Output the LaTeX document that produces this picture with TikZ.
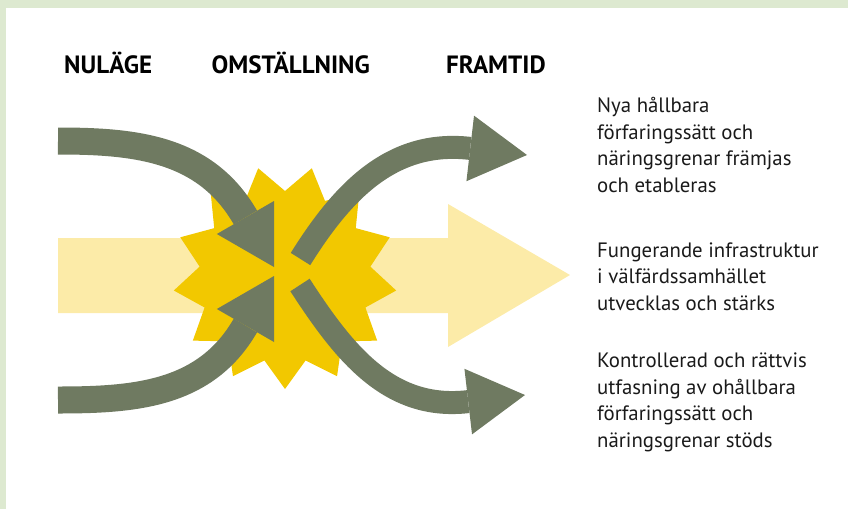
\documentclass[tikz,border=0pt]{standalone}
\usepackage{fontspec}
\setmainfont{PT Sans}
\definecolor{ram}{HTML}{DDE9D0}
\definecolor{ljusgul}{HTML}{FCEBA8}
\definecolor{gul}{HTML}{F2C800}
\definecolor{gron}{HTML}{6F7A61}
\definecolor{text}{HTML}{1A1A1A}
\begin{document}
\begin{tikzpicture}[x=1pt, y=1pt,
    rubrik/.style={font=\fontsize{25}{28}\selectfont\bfseries, anchor=base west, inner sep=0},
    mal/.style={font=\fontsize{20.8}{26.6}\selectfont, text=text, align=left, anchor=base west, inner sep=0},
    in band/.style={gron, line width=27},
    ut band/.style={gron, line width=23}]
  \useasboundingbox (0,0) rectangle (848,-509);
  \fill[ram] (0,0) rectangle (848,-7.5);
  \fill[ram] (0,0) rectangle (6,-509);

  \node[rubrik] (nulage) at (64,-73.4) {NULÄGE};
  \node[rubrik] (omstallning) at (211.4,-73.4) {OMSTÄLLNING};
  \node[rubrik] (framtid) at (446,-73.4) {FRAMTID};

  % bred pil och stjarna
  \fill[ljusgul] (58,-238) -- (448,-238) -- (448,-204) -- (570,-275)
    -- (448,-347) -- (448,-313) -- (58,-313) -- cycle;
  \fill[gul, shift={(285,-277)}] plot[domain=0:25, samples=26]
    ({270+\x*360/26}:{86+26*(1-mod(round(\x),2))}) -- cycle;

  % pilar in
  \coordinate (in1) at (58,-141);
  \coordinate (in2) at (58,-400);
  \coordinate (spets1) at (274,-267);
  \coordinate (spets2) at (274,-276);
  \draw[in band] (in1) to[out=0, in=120] (245.4,-217.5);
  \draw[in band] (in2) to[out=0, in=240] (245.4,-325.5);
  \fill[gron] (spets1) -- ++(90:66) -- ++(210:66) -- cycle;
  \fill[gron] (spets2) -- ++(210:66) -- ++(330:66) -- cycle;

  % pilar ut
  \coordinate (ut1) at (300.5,-259);
  \coordinate (ut2) at (300,-285);
  \coordinate (spets3) at (527,-155);
  \coordinate (spets4) at (525,-395);
  \draw[ut band] (ut1) to[out=58, in=173.4] (470.2,-148.4);
  \draw[ut band] (ut2) to[out=-57, in=186.6] (468.2,-401.6);
  \fill[gron] (spets3) -- ++(143.4:66) -- ++(263.4:66) -- cycle;
  \fill[gron] (spets4) -- ++(156.6:66) -- ++(276.6:66) -- cycle;

  \node[mal] (mal1) at (597,-192.5) {Nya hållbara\\förfaringssätt och\\näringsgrenar främjas\\och etableras};
  \node[mal] (mal2) at (597,-310.5) {Fungerande infrastruktur\\i välfärdssamhället\\utvecklas och stärks};
  \node[mal] (mal3) at (597,-447.5) {Kontrollerad och rättvis\\utfasning av ohållbara\\förfaringssätt och\\näringsgrenar stöds};
\end{tikzpicture}
\end{document}
